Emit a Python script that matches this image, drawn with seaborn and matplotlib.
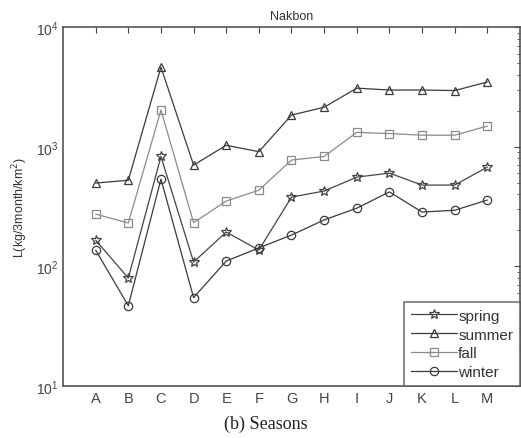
import numpy as np
import pandas as pd
import seaborn as sns
import matplotlib
matplotlib.use("Agg")
import matplotlib.pyplot as plt
from matplotlib.ticker import LogLocator, NullFormatter


# ---------------------------------------------------------------------------
# Data
# ---------------------------------------------------------------------------

sites = ["A", "B", "C", "D", "E", "F", "G", "H", "I", "J", "K", "L", "M"]

spring = [166, 80, 830, 109, 194, 137, 380, 427, 558, 603, 479, 479, 677]
summer = [498, 525, 4630, 703, 1030, 910, 1840, 2140, 3090, 2980, 2980, 2950, 3480]
fall = [274, 231, 2027, 232, 352, 434, 775, 830, 1320, 1290, 1250, 1250, 1490]
winter = [137, 47, 537, 55, 111, 143, 183, 245, 307, 420, 285, 295, 359]

seasons = ["spring", "summer", "fall", "winter"]
markers = {"spring": "*", "summer": "^", "fall": "s", "winter": "o"}
colors = {"spring": "#444444", "summer": "#3a3a3a", "fall": "#8a8a8a", "winter": "#3a3a3a"}


# ---------------------------------------------------------------------------
# Long table for seaborn
# ---------------------------------------------------------------------------

values = {"spring": spring, "summer": summer, "fall": fall, "winter": winter}

df = pd.concat(
    [pd.DataFrame({"site": sites, "pos": np.arange(1, len(sites) + 1), "season": s, "L": values[s]})
     for s in seasons],
    ignore_index=True,
)


# ---------------------------------------------------------------------------
# Plot
# ---------------------------------------------------------------------------

sns.set_style("white")
plt.rcParams["font.family"] = ["Liberation Sans", "DejaVu Sans"]

fig = plt.figure(figsize=(5.21, 4.39), dpi=100)
ax = fig.add_axes([0.121, 0.118, 0.877, 0.818])

for s in seasons:
    sub = df[df["season"] == s]
    sns.lineplot(
        data=sub, x="pos", y="L", ax=ax,
        color=colors[s], marker=markers[s], markersize=7 if s == "spring" else 6,
        markerfacecolor="none", markeredgecolor=colors[s], markeredgewidth=0.9,
        linewidth=0.9, label=s,
    )

ax.set_yscale("log")
ax.set_ylim(10, 1e4)
ax.set_xlim(0, 14)

ax.set_xticks(np.arange(1, len(sites) + 1))
ax.set_xticklabels(sites, fontsize=10.5, color="#444444")

ax.yaxis.set_major_locator(LogLocator(base=10))
ax.yaxis.set_minor_locator(LogLocator(base=10, subs=np.arange(2, 10)))
ax.yaxis.set_minor_formatter(NullFormatter())
ax.tick_params(axis="y", labelsize=10, labelcolor="#444444")

ax.tick_params(which="both", direction="in", top=True, right=True, color="#444444")
ax.tick_params(which="major", length=4)
ax.tick_params(which="minor", length=2)

for sp in ax.spines.values():
    sp.set_color("#555555")
    sp.set_linewidth(1.2)

ax.set_xlabel("")
ax.set_ylabel("L(kg/3month/km$^2$)", fontsize=9, color="#333333")
ax.set_title("Nakbon", fontsize=9, color="#333333")

leg = ax.legend(loc="lower right", fontsize=11, frameon=True, fancybox=False,
                borderaxespad=0, handlelength=3.0, handletextpad=0.1,
                labelspacing=0.32, borderpad=0.45)
leg.get_frame().set_edgecolor("#555555")
leg.get_frame().set_linewidth(1.2)
for t in leg.get_texts():
    t.set_color("#333333")

fig.text(0.51, 0.033, "(b) Seasons", ha="center", va="center",
         fontsize=13, family=["Liberation Serif", "DejaVu Serif"], color="#222222")

fig.savefig("out.png", dpi=100)
